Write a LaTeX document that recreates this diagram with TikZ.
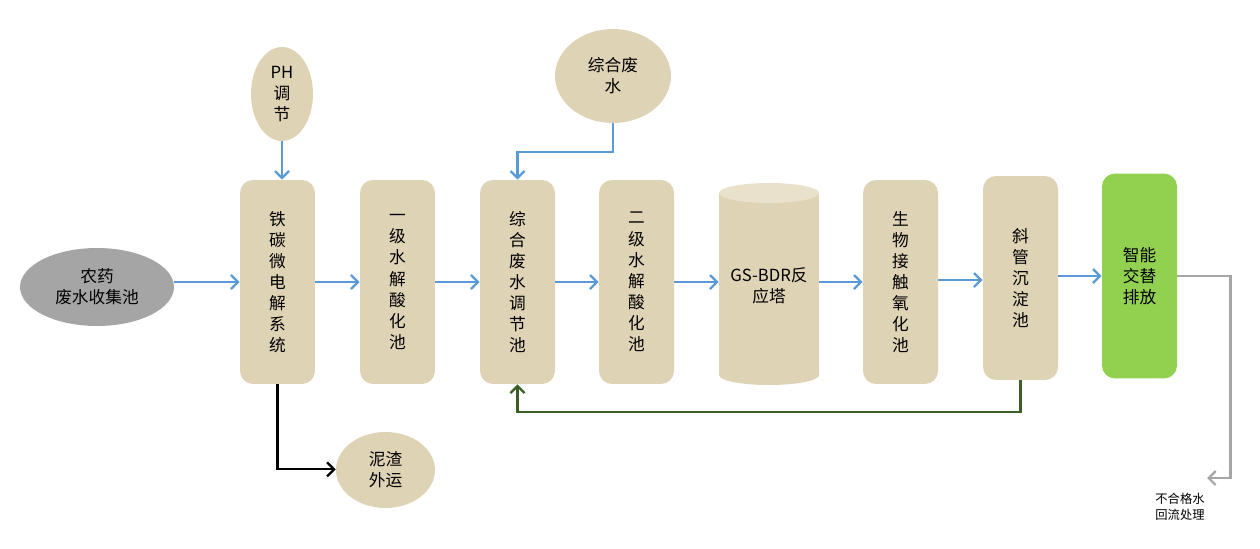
\documentclass[tikz,border=0pt]{standalone}
\usepackage{fontspec}
\setmainfont{Noto Sans CJK SC}
\usetikzlibrary{arrows.meta,shapes.geometric}
\definecolor{beige}{HTML}{DFD3B6}
\definecolor{beigetop}{HTML}{EAE1CD}
\definecolor{graynode}{HTML}{A5A5A5}
\definecolor{greenbox}{HTML}{92D050}
\definecolor{flowblue}{HTML}{5B9BD5}
\definecolor{retgray}{HTML}{A6A6A6}
\definecolor{darkgreen}{HTML}{3A5E23}
\begin{document}
\begin{tikzpicture}[x=0.02cm,y=-0.02cm,
  txt/.style={font=\fontsize{9.5}{12}\selectfont},
  box/.style={txt, fill=beige, rounded corners=0.26cm, minimum width=1.5cm, minimum height=4.08cm, inner sep=0pt, align=center},
  oval/.style={txt, ellipse, fill=beige, inner sep=0pt, align=center},
  tipstyle/.style={-{Straight Barb[length=4pt,width=8pt]}},
  flow/.style={draw=flowblue, line width=1.3pt, tipstyle},
  ret/.style={draw=retgray, line width=1.3pt, tipstyle},
  sludge/.style={draw=black, line width=1.3pt, tipstyle},
  back/.style={draw=darkgreen, line width=1.3pt, tipstyle}]
\useasboundingbox (0,0) rectangle (1260,548);

% source
\node[txt, ellipse, fill=graynode, minimum width=3.08cm, minimum height=1.56cm, inner sep=0pt, align=center] (src) at (97,287) {农药\\废水收集池};

% boxes
\node[box] (b1) at (277.5,282) {铁\\碳\\微\\电\\解\\系\\统};
\node[box] (b2) at (397.5,282) {一\\级\\水\\解\\酸\\化\\池};
\node[box] (b3) at (517.5,282) {综\\合\\废\\水\\调\\节\\池};
\node[box] (b4) at (636.5,282) {二\\级\\水\\解\\酸\\化\\池};
\node[box] (b5) at (900.5,282) {生\\物\\接\\触\\氧\\化\\池};
\node[box] (b6) at (1020.5,278) {斜\\管\\沉\\淀\\池};
\node[box, fill=greenbox, minimum height=4.1cm] (g) at (1139.5,276) {智能\\交替\\排放};

% cylinder
\fill[beige] (719,193) rectangle (819,375);
\fill[beige] (769,375) ellipse [x radius=50, y radius=10];
\fill[beigetop] (769,193) ellipse [x radius=50, y radius=10];
\node[txt, align=center, minimum width=2cm, minimum height=3.84cm, inner sep=0pt] (cyl) at (769,286) {GS-BDR反\\应塔};

% ovals
\node[oval, minimum width=1.24cm, minimum height=1.88cm] (ph) at (282,94) {PH\\调\\节};
\node[oval, minimum width=2.32cm, minimum height=1.88cm] (mix) at (613,76) {综合废\\水};
\node[oval, minimum width=1.98cm, minimum height=1.52cm] (mud) at (385.5,470) {泥渣\\外运};

% main flow
\draw[flow] (src.east |- b1.west) -- (b1.west);
\draw[flow] (b1.east) -- (b2.west);
\draw[flow] (b2.east) -- (b3.west);
\draw[flow] (b3.east) -- (b4.west);
\draw[flow] (b4.east) -- (b4.east -| cyl.west);
\draw[flow] (cyl.east |- b5.west) -- (b5.west);
\draw[flow] (b5.east |- 0,280) -- (b6.west |- 0,280);
\draw[flow] (b6.east |- g.west) -- (g.west);

% side inputs
\draw[flow] (ph.south) -- (ph.south |- b1.north);
\draw[flow] (mix.south) -- ++(0,29) -| (b3.north);

% sludge out
\draw[sludge] (b1.south) -- ++(0,85) coordinate (s1) -- (s1 -| mud.west);

% recycle
\draw[back] (b6.south) -- ++(0,32) coordinate (r1) -| (b3.south);

% unqualified return
\coordinate (rt) at (1207,478);
\draw[ret] (g.east) -- ++(53,0) |- (rt);
\node[font=\fontsize{7}{9}\selectfont, align=center] (lbl) at (1180,507) {不合格水\\回流处理};
\end{tikzpicture}
\end{document}
